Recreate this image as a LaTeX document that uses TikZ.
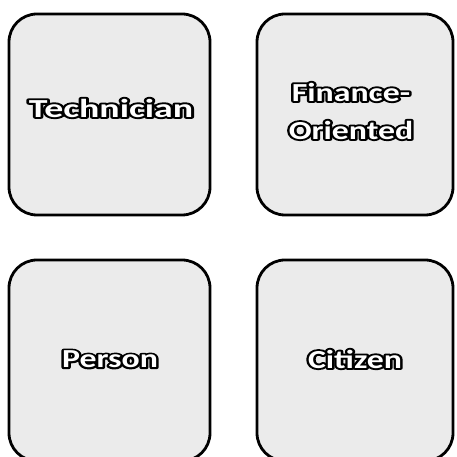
\documentclass[tikz,border=0pt]{standalone}
\usepackage{fontspec}
\newfontfamily\lblfont{Carlito}
\newcommand\strokedtext[1]{\special{pdf:literal direct 2 Tr 3.8 w 1 j 0 0 0 RG}#1\special{pdf:literal direct 0 Tr}}
\tikzset{
  box/.style={draw=black, line width=2.8pt, rounded corners=28pt, fill=black!8,
    minimum width=#1, minimum height=201pt, inner sep=0pt},
  lbl/.style={font=\lblfont\bfseries\fontsize{26}{38}\selectfont, align=center,
    inner sep=0pt, text=white, xscale=1.3, transform shape},
  lblshadow/.style={lbl, text=black},
}
\begin{document}
\begin{tikzpicture}[x=1pt,y=1pt]
\useasboundingbox (0,0) rectangle (456,457);
\clip (0,0) rectangle (456,457);
\fill[white] (0,0) rectangle (456,457);
\node[box=201pt] (tl) at (109.5,342.5) {};
\node[box=196pt] (tr) at (355,342.5) {};
\node[box=201pt] (bl) at (109.5,96.5) {};
\node[box=196pt] (br) at (355,96.5) {};
\node[lblshadow, xscale=1.12] (t1s) at (111,349) {\strokedtext{Technician}};
\node[lbl, xscale=1.12] (t1) at (111,349) {Technician};
\node[lblshadow] (t2s) at (351,346) {\strokedtext{Finance-}\\\strokedtext{Oriented}};
\node[lbl] (t2) at (351,346) {Finance-\\Oriented};
\node[lblshadow] (t3s) at (110,98) {\strokedtext{Person}};
\node[lbl] (t3) at (110,98) {Person};
\node[lblshadow] (t4s) at (355,98) {\strokedtext{Citizen}};
\node[lbl] (t4) at (355,98) {Citizen};
\end{tikzpicture}
\end{document}
